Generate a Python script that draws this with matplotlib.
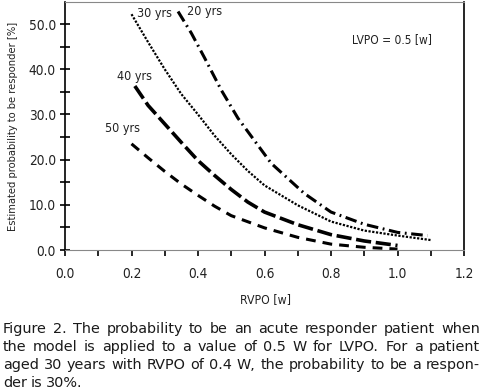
import matplotlib
matplotlib.use("Agg")
import matplotlib.pyplot as plt
from matplotlib.ticker import MultipleLocator, FormatStrFormatter

# curves (RVPO [w] -> probability [%])
x20 = [0.34, 0.38, 0.42, 0.47, 0.52, 0.56, 0.62, 0.72, 0.8, 0.9, 1.0, 1.09]
y20 = [52.8, 48.0, 42.5, 35.4, 29.2, 25.2, 19.2, 12.5, 8.4, 5.7, 3.9, 3.2]
x30 = [0.2, 0.25, 0.3, 0.35, 0.4, 0.45, 0.5, 0.55, 0.6, 0.7, 0.8, 0.9, 1.0, 1.1]
y30 = [52.2, 46.0, 40.0, 34.5, 30.0, 25.3, 21.2, 17.5, 14.3, 9.9, 6.3, 4.3, 3.2, 2.2]
x40 = [0.21, 0.25, 0.3, 0.35, 0.4, 0.45, 0.5, 0.55, 0.6, 0.7, 0.8, 0.9, 1.0]
y40 = [36.3, 32.0, 27.9, 23.8, 19.8, 16.5, 13.4, 10.6, 8.4, 5.6, 3.4, 2.0, 1.0]
x50 = [0.2, 0.25, 0.3, 0.35, 0.4, 0.45, 0.5, 0.6, 0.7, 0.8, 0.9, 1.0]
y50 = [23.5, 20.4, 17.4, 14.6, 12.1, 9.7, 7.6, 4.9, 2.8, 1.3, 0.6, 0.2]

caption = ["Figure 2. The probability to be an acute responder patient when",
           "the model is applied to a value of 0.5 W for LVPO. For a patient",
           "aged 30 years with RVPO of 0.4 W, the probability to be a respon-",
           "der is 30%."]

narrow = dict(family="DejaVu Sans", stretch="condensed")

W, H = 482, 392
fig = plt.figure(figsize=(W / 100, H / 100), dpi=100)
ax = fig.add_axes([65 / W, 1 - 250 / H, 399 / W, 248 / H])

ax.plot(x20, y20, color="black", lw=2.2, linestyle=(0, (3.8, 1.5, 0.6, 1.5)))
ax.plot(x30, y30, color="black", lw=1.6, linestyle=(0, (1, 0.7)))
ax.plot(x40, y40, color="black", lw=2.6, linestyle=(0, (4.2, 1.3)))
ax.plot(x50, y50, color="black", lw=2.2, linestyle=(0, (3.2, 2.3)))

ax.set_xlim(0, 1.2)
ax.set_ylim(0, 54.9)
ax.xaxis.set_major_locator(MultipleLocator(0.2))
ax.xaxis.set_minor_locator(MultipleLocator(0.1))
ax.yaxis.set_major_locator(MultipleLocator(10))
ax.yaxis.set_minor_locator(MultipleLocator(5))
ax.xaxis.set_major_formatter(FormatStrFormatter("%.1f"))
ax.yaxis.set_major_formatter(FormatStrFormatter("%.1f"))
ax.tick_params(axis="x", which="both", direction="out", length=4, width=1.2, pad=8)
ax.tick_params(axis="y", which="both", direction="inout", length=7, width=1.2, pad=3)
for lab in ax.get_xticklabels() + ax.get_yticklabels():
    lab.set_family("DejaVu Sans")
    lab.set_stretch("condensed")
    lab.set_fontsize(9.8)
    lab.set_color("#222222")

for s in ["top", "bottom"]:
    ax.spines[s].set_color("#888888")
ax.spines["left"].set_linewidth(1.2)
ax.spines["right"].set_linewidth(1.2)

ax.set_xlabel("RVPO [w]", fontsize=8.8, color="#222222", **narrow)
ax.xaxis.set_label_coords((265 - 65) / 399, -(293 - 250) / 248)
ax.set_ylabel("Estimated probability to be responder [%]", fontsize=8,
              color="#222222", **narrow)
ax.yaxis.set_label_coords(-(65 - 18) / 399, 0.5)

lab_kw = dict(fontsize=9, color="#222222", va="center", **narrow)
ax.text(0.217, 52.4, "30 yrs", **lab_kw)
ax.text(0.367, 52.9, "20 yrs", **lab_kw)
ax.text(0.156, 38.5, "40 yrs", **lab_kw)
ax.text(0.120, 27.0, "50 yrs", **lab_kw)
ax.text(0.863, 46.5, "LVPO = 0.5 [w]", fontsize=8.6, color="#222222",
        va="center", **narrow)

# justified caption, drawn word by word
renderer = fig.canvas.get_renderer()
left, right = 3, 480
baselines = [333, 351, 369, 387]
cap_kw = dict(family="DejaVu Sans", fontsize=10.4, color="#1a1a1a", va="baseline")
space = 3.5
for i, line in enumerate(caption):
    words = line.split(" ")
    texts = [fig.text(0, 0, w, **cap_kw) for w in words]
    widths = [t.get_window_extent(renderer).width for t in texts]
    if i < len(caption) - 1:
        gap = (right - left - sum(widths)) / (len(words) - 1)
    else:
        gap = space
    x = left
    for t, w in zip(texts, widths):
        t.set_position((x / W, 1 - baselines[i] / H))
        x += w + gap

fig.savefig("out.png", dpi=100)
